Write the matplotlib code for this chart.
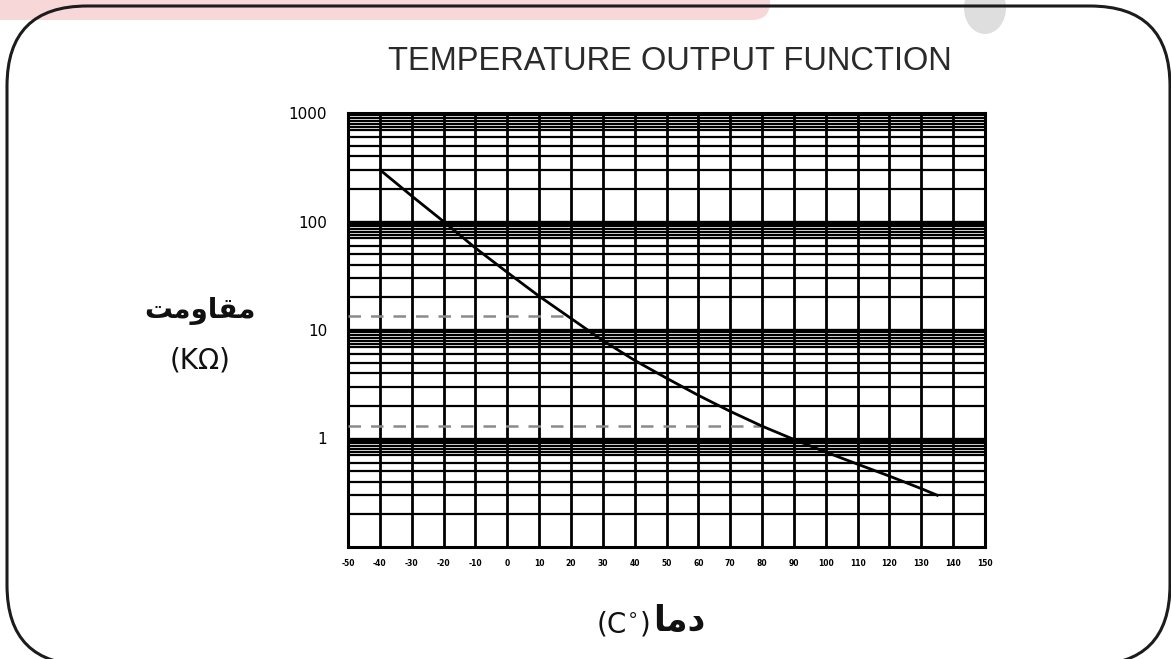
import numpy as np
import matplotlib
matplotlib.use('Agg')
import matplotlib.pyplot as plt
from matplotlib.patches import FancyBboxPatch, Ellipse
from matplotlib.ticker import FixedLocator, NullFormatter

# temperature (C) / resistance (K ohm)
temp = [-40, -30, -20, -10, 0, 10, 20, 30, 40, 50, 60, 70, 80, 90, 100, 110, 120, 130, 135]
res = [300, 172, 100, 57, 34, 20.5, 12.8, 8.0, 5.25, 3.6, 2.5, 1.78, 1.3, 0.98, 0.75, 0.58, 0.45, 0.345, 0.30]

# dashed reading lines: (resistance, temperature where they stop)
guide_res = [13.5, 1.3]
guide_temp = [17.5, 80]

x_ticks = list(range(-50, 151, 10))
x_labels = [str(t) for t in x_ticks]
y_major = [1, 10, 100, 1000]
y_labels = ['1', '10', '100', '1000']
minor_mult = [2, 3, 4, 5, 6, 7, 7.5, 8, 8.5, 9, 9.5]

W, H = 1171, 659
fig = plt.figure(figsize=(W / 100, H / 100), dpi=100)
fig.patch.set_facecolor('white')

# background layer in pixel coordinates, y pointing up (frame, pink band)
bg = fig.add_axes([0, 0, 1, 1], zorder=0)
bg.set_xlim(0, W)
bg.set_ylim(0, H)
bg.axis('off')
bg.add_patch(FancyBboxPatch((-40, H - 20), 810, 40, boxstyle='round,pad=0,rounding_size=18',
                            fc='#f8d7d9', ec='none'))
bg.add_patch(Ellipse((985, H - 8), 42, 52, fc='#dedede', ec='none'))
bg.add_patch(FancyBboxPatch((7, H - 665), 1163, 659, boxstyle='round,pad=0,rounding_size=80',
                            fc='none', ec='#1c1c1c', lw=2.2))

bg.text(670, H - 62, 'TEMPERATURE OUTPUT FUNCTION', ha='center', va='center', fontsize=23.5,
        family=['Liberation Sans', 'DejaVu Sans'], color='#2a2a2a')

# Persian labels (presentation forms, visual order)
bg.text(200, H - 311, '\ufe96\ufee3\ufeed\ufe8e\ufed8\ufee3', ha='center', va='center',
        fontsize=20, fontweight='bold', family='DejaVu Sans', color='#111111')
bg.text(200, H - 360, '(K\u03a9)', ha='center', va='center', fontsize=20,
        family='DejaVu Sans', color='#111111')
bg.text(650, H - 624, '(C$^{\\circ}$)', ha='right', va='center', fontsize=20,
        family='DejaVu Sans', color='#111111')
bg.text(653, H - 621, '\ufe8e\ufee3\ufea9', ha='left', va='center', fontsize=25,
        fontweight='bold', family='DejaVu Sans', color='#111111')

# main chart
ax = fig.add_axes([348 / W, 1 - 547 / H, (985 - 348) / W, (547 - 113) / H], zorder=1)
ax.set_facecolor('white')
ax.set_yscale('log')
ax.set_xlim(-50, 150)
ax.set_ylim(0.1, 1000)

ax.xaxis.set_major_locator(FixedLocator(x_ticks))
ax.set_xticklabels(x_labels)
ax.yaxis.set_major_locator(FixedLocator(y_major))
ax.set_yticklabels(y_labels)
minors = [d * m for d in [0.1, 1, 10, 100] for m in minor_mult]
ax.yaxis.set_minor_locator(FixedLocator(minors))
ax.yaxis.set_minor_formatter(NullFormatter())

ax.grid(True, which='major', axis='x', color='black', lw=2.0)
ax.grid(True, which='major', axis='y', color='black', lw=2.4)
ax.grid(True, which='minor', axis='y', color='black', lw=1.6)
ax.tick_params(axis='both', which='both', length=0)
ax.tick_params(axis='x', pad=9, labelsize=5.5)
ax.tick_params(axis='y', pad=15, labelsize=11)
for lab in ax.get_xticklabels():
    lab.set_fontweight('bold')
for sp in ax.spines.values():
    sp.set_linewidth(2.2)
ax.set_axisbelow(True)

for r, t in zip(guide_res, guide_temp):
    ax.plot([-50, t], [r, r], color='#8a8a8a', lw=1.8, dashes=(5, 4), zorder=3)

ax.plot(temp, res, color='black', lw=2.0, zorder=4)

fig.savefig('out.png', dpi=100)
